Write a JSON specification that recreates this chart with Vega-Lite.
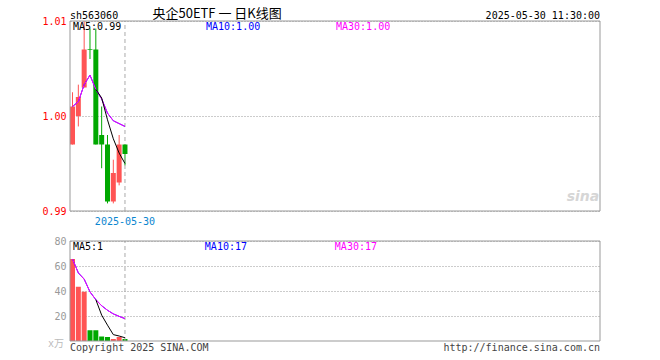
{
  "$schema": "https://vega.github.io/schema/vega-lite/v6.json",
  "width": 530,
  "height": 320,
  "autosize": {"type": "none"},
  "padding": {"left": 70, "top": 21, "right": 60, "bottom": 19},
  "background": "white",
  "config": {
    "view": {"stroke": null},
    "font": "DejaVu Sans Mono",
    "text": {"font": "DejaVu Sans Mono", "fontSize": 10, "baseline": "middle"}
  },
  "data": {
    "values": [
      {"n": 1, "open": 0.997, "close": 1.001, "high": 1.0025, "low": 0.997, "dir": "up", "vol": 65.6, "ma5": null, "ma10": 1.001, "ma30": 1.001, "vma5": null, "vma10": 65.6, "vma30": 65.6},
      {"n": 2, "open": 1.0, "close": 1.002, "high": 1.0033, "low": 0.9989, "dir": "up", "vol": 43.4, "ma5": null, "ma10": 1.0015, "ma30": 1.0015, "vma5": null, "vma10": 54.5, "vma30": 54.5},
      {"n": 3, "open": 1.003, "close": 1.007, "high": 1.01, "low": 1.003, "dir": "up", "vol": 39.4, "ma5": null, "ma10": 1.0033, "ma30": 1.0033, "vma5": null, "vma10": 49.5, "vma30": 49.5},
      {"n": 4, "open": 1.007, "close": 1.007, "high": 1.0092, "low": 1.006, "dir": "down", "vol": 8.6, "ma5": null, "ma10": 1.0043, "ma30": 1.0043, "vma5": null, "vma10": 39.3, "vma30": 39.3},
      {"n": 5, "open": 1.007, "close": 0.997, "high": 1.0092, "low": 0.997, "dir": "down", "vol": 8.6, "ma5": 1.0028, "ma10": 1.0028, "ma30": 1.0028, "vma5": 33.1, "vma10": 33.1, "vma30": 33.1},
      {"n": 6, "open": 0.998, "close": 0.997, "high": 1.001, "low": 0.9945, "dir": "down", "vol": 3.6, "ma5": 1.0019, "ma10": 1.0018, "ma30": 1.0018, "vma5": 20.7, "vma10": 28.2, "vma30": 28.2},
      {"n": 7, "open": 0.997, "close": 0.991, "high": 0.998, "low": 0.9908, "dir": "down", "vol": 3.2, "ma5": 0.9996, "ma10": 1.0003, "ma30": 1.0003, "vma5": 12.7, "vma10": 24.6, "vma30": 24.6},
      {"n": 8, "open": 0.991, "close": 0.994, "high": 0.9954, "low": 0.9908, "dir": "up", "vol": 1.6, "ma5": 0.9976, "ma10": 0.9995, "ma30": 0.9995, "vma5": 5.1, "vma10": 21.7, "vma30": 21.7},
      {"n": 9, "open": 0.993, "close": 0.997, "high": 0.998, "low": 0.9927, "dir": "up", "vol": 3.2, "ma5": 0.9961, "ma10": 0.9992, "ma30": 0.9992, "vma5": 4.0, "vma10": 19.7, "vma30": 19.7},
      {"n": 10, "open": 0.997, "close": 0.996, "high": 0.997, "low": 0.9948, "dir": "down", "vol": 1.6, "ma5": 0.995, "ma10": 0.9989, "ma30": 0.9989, "vma5": 2.6, "vma10": 17.9, "vma30": 17.9}
    ]
  },
  "resolve": {"scale": {"y": "independent"}, "axis": {"y": "independent"}},
  "layer": [
    {
      "layer": [
        {
          "mark": {"type": "rule", "strokeWidth": 1},
          "encoding": {
            "x": {"field": "n", "type": "quantitative", "scale": {"domain": [0.57, 91.48], "nice": false, "zero": false, "padding": 0}, "axis": null},
            "y": {"field": "low", "type": "quantitative", "title": null,
                  "scale": {"domain": [0.99, 1.01], "range": [190, 0], "nice": false, "zero": false, "padding": 0},
                  "axis": {"title": null, "orient": "left", "values": [0.99, 1.0, 1.01], "format": ".2f", "labelColor": "#ff0000", "grid": true, "gridDash": [1, 2], "gridColor": "#999999", "domain": false, "ticks": false, "labelPadding": 4, "labelFont": "DejaVu Sans Mono", "labelFontSize": 10}},
            "y2": {"field": "high"},
            "color": {"field": "dir", "type": "nominal", "scale": {"domain": ["up", "down"], "range": ["#ff5454", "#00a800"]}, "legend": null}
          }
        },
        {
          "data": {"values": [{}]},
          "mark": {"type": "rule", "stroke": "#aaaaaa", "strokeDash": [4, 3], "strokeWidth": 1},
          "encoding": {
            "x": {"datum": 10, "type": "quantitative", "axis": null},
            "y": {"datum": 0.99, "type": "quantitative", "title": null},
            "y2": {"datum": 1.01}
          }
        },
        {
          "mark": {"type": "bar", "orient": "vertical", "size": 5},
          "encoding": {
            "x": {"field": "n", "type": "quantitative", "axis": null},
            "y": {"field": "open", "type": "quantitative", "title": null},
            "y2": {"field": "close"},
            "color": {"field": "dir", "type": "nominal", "legend": null}
          }
        },
        {
          "transform": [{"filter": "datum.open == datum.close"}],
          "mark": {"type": "tick", "orient": "horizontal", "size": 5, "thickness": 1},
          "encoding": {
            "x": {"field": "n", "type": "quantitative", "axis": null},
            "y": {"field": "close", "type": "quantitative", "title": null},
            "color": {"field": "dir", "type": "nominal", "legend": null}
          }
        },
        {
          "mark": {"type": "line", "color": "#0000ff", "strokeWidth": 1},
          "encoding": {
            "x": {"field": "n", "type": "quantitative", "axis": null},
            "y": {"field": "ma10", "type": "quantitative", "title": null}
          }
        },
        {
          "mark": {"type": "line", "color": "#ff00ff", "strokeWidth": 1},
          "encoding": {
            "x": {"field": "n", "type": "quantitative", "axis": null},
            "y": {"field": "ma30", "type": "quantitative", "title": null}
          }
        },
        {
          "mark": {"type": "line", "color": "#000000", "strokeWidth": 1},
          "encoding": {
            "x": {"field": "n", "type": "quantitative", "axis": null},
            "y": {"field": "ma5", "type": "quantitative", "title": null}
          }
        },
        {
          "data": {"values": [{}]},
          "mark": {"type": "rect", "fill": "#ffffff", "fillOpacity": 0, "stroke": "#999999", "strokeWidth": 1},
          "encoding": {
            "x": {"datum": 0.57, "type": "quantitative", "axis": null},
            "x2": {"datum": 91.48},
            "y": {"datum": 0.99, "type": "quantitative", "title": null},
            "y2": {"datum": 1.01}
          }
        },
        {
          "data": {"values": [{}]},
          "mark": {"type": "text", "text": "MA5:0.99", "align": "left", "color": "#000000"},
          "encoding": {"x": {"datum": 1.085, "type": "quantitative", "axis": null}, "y": {"datum": 1.00937, "type": "quantitative", "title": null}}
        },
        {
          "data": {"values": [{}]},
          "mark": {"type": "text", "text": "MA10:1.00", "align": "left", "color": "#0000ff"},
          "encoding": {"x": {"datum": 23.9, "type": "quantitative", "axis": null}, "y": {"datum": 1.00937, "type": "quantitative", "title": null}}
        },
        {
          "data": {"values": [{}]},
          "mark": {"type": "text", "text": "MA30:1.00", "align": "left", "color": "#ff00ff"},
          "encoding": {"x": {"datum": 46.2, "type": "quantitative", "axis": null}, "y": {"datum": 1.00937, "type": "quantitative", "title": null}}
        },
        {
          "data": {"values": [{}]},
          "mark": {"type": "text", "text": "sh563060", "align": "left", "color": "#000000"},
          "encoding": {"x": {"datum": 0.57, "type": "quantitative", "axis": null}, "y": {"datum": 1.01053, "type": "quantitative", "title": null}}
        },
        {
          "data": {"values": [{}]},
          "mark": {"type": "text", "text": "央企50ETF 一 日K线图", "align": "center", "color": "#000000", "font": "Noto Sans CJK SC", "fontSize": 13},
          "encoding": {"x": {"datum": 25.8, "type": "quantitative", "axis": null}, "y": {"datum": 1.0107, "type": "quantitative", "title": null}}
        },
        {
          "data": {"values": [{}]},
          "mark": {"type": "text", "text": "2025-05-30 11:30:00", "align": "right", "color": "#000000"},
          "encoding": {"x": {"datum": 91.48, "type": "quantitative", "axis": null}, "y": {"datum": 1.01053, "type": "quantitative", "title": null}}
        },
        {
          "data": {"values": [{}]},
          "mark": {"type": "text", "text": "2025-05-30", "align": "center", "color": "#0a86d0"},
          "encoding": {"x": {"datum": 10, "type": "quantitative", "axis": null}, "y": {"datum": 0.98884, "type": "quantitative", "title": null}}
        },
        {
          "data": {"values": [{}]},
          "mark": {"type": "text", "text": "sina", "align": "center", "color": "#d6d6d6", "font": "DejaVu Sans", "fontSize": 14, "fontWeight": "bold", "fontStyle": "italic"},
          "encoding": {"x": {"datum": 88.56, "type": "quantitative", "axis": null}, "y": {"datum": 0.99147, "type": "quantitative", "title": null}}
        }
      ]
    },
    {
      "layer": [
        {
          "mark": {"type": "bar", "orient": "vertical", "size": 5},
          "encoding": {
            "x": {"field": "n", "type": "quantitative", "axis": null},
            "y": {"field": "vol", "type": "quantitative", "title": null,
                  "scale": {"domain": [0, 80], "range": [320, 220], "nice": false, "zero": false, "padding": 0},
                  "axis": {"title": null, "orient": "left", "values": [20, 40, 60, 80], "labelColor": "#999999", "grid": true, "gridDash": [1, 2], "gridColor": "#999999", "domain": false, "ticks": false, "labelPadding": 4, "labelFont": "DejaVu Sans Mono", "labelFontSize": 10}},
            "color": {"field": "dir", "type": "nominal", "legend": null}
          }
        },
        {
          "data": {"values": [{}]},
          "mark": {"type": "rule", "stroke": "#aaaaaa", "strokeDash": [4, 3], "strokeWidth": 1},
          "encoding": {
            "x": {"datum": 10, "type": "quantitative", "axis": null},
            "y": {"datum": 0, "type": "quantitative", "title": null},
            "y2": {"datum": 80}
          }
        },
        {
          "mark": {"type": "line", "color": "#0000ff", "strokeWidth": 1},
          "encoding": {
            "x": {"field": "n", "type": "quantitative", "axis": null},
            "y": {"field": "vma10", "type": "quantitative", "title": null}
          }
        },
        {
          "mark": {"type": "line", "color": "#ff00ff", "strokeWidth": 1},
          "encoding": {
            "x": {"field": "n", "type": "quantitative", "axis": null},
            "y": {"field": "vma30", "type": "quantitative", "title": null}
          }
        },
        {
          "mark": {"type": "line", "color": "#000000", "strokeWidth": 1},
          "encoding": {
            "x": {"field": "n", "type": "quantitative", "axis": null},
            "y": {"field": "vma5", "type": "quantitative", "title": null}
          }
        },
        {
          "data": {"values": [{}]},
          "mark": {"type": "rect", "fill": "#ffffff", "fillOpacity": 0, "stroke": "#999999", "strokeWidth": 1},
          "encoding": {
            "x": {"datum": 0.57, "type": "quantitative", "axis": null},
            "x2": {"datum": 91.48},
            "y": {"datum": 0, "type": "quantitative", "title": null},
            "y2": {"datum": 80}
          }
        },
        {
          "data": {"values": [{}]},
          "mark": {"type": "text", "text": "MA5:1", "align": "left", "color": "#000000"},
          "encoding": {"x": {"datum": 1.085, "type": "quantitative", "axis": null}, "y": {"datum": 75.2, "type": "quantitative", "title": null}}
        },
        {
          "data": {"values": [{}]},
          "mark": {"type": "text", "text": "MA10:17", "align": "left", "color": "#0000ff"},
          "encoding": {"x": {"datum": 23.7, "type": "quantitative", "axis": null}, "y": {"datum": 75.2, "type": "quantitative", "title": null}}
        },
        {
          "data": {"values": [{}]},
          "mark": {"type": "text", "text": "MA30:17", "align": "left", "color": "#ff00ff"},
          "encoding": {"x": {"datum": 46.0, "type": "quantitative", "axis": null}, "y": {"datum": 75.2, "type": "quantitative", "title": null}}
        },
        {
          "data": {"values": [{}]},
          "mark": {"type": "text", "text": "Copyright 2025 SINA.COM", "align": "left", "color": "#444444"},
          "encoding": {"x": {"datum": 0.57, "type": "quantitative", "axis": null}, "y": {"datum": -5.6, "type": "quantitative", "title": null}}
        },
        {
          "data": {"values": [{}]},
          "mark": {"type": "text", "text": "http://finance.sina.com.cn", "align": "right", "color": "#444444"},
          "encoding": {"x": {"datum": 91.48, "type": "quantitative", "axis": null}, "y": {"datum": -5.6, "type": "quantitative", "title": null}}
        },
        {
          "data": {"values": [{}]},
          "mark": {"type": "text", "text": "x万", "align": "right", "dx": -6, "color": "#bbbbbb", "font": "DejaVu Sans Mono, Noto Sans CJK SC"},
          "encoding": {"x": {"datum": 0.57, "type": "quantitative", "axis": null}, "y": {"datum": -2.4, "type": "quantitative", "title": null}}
        }
      ]
    }
  ]
}
